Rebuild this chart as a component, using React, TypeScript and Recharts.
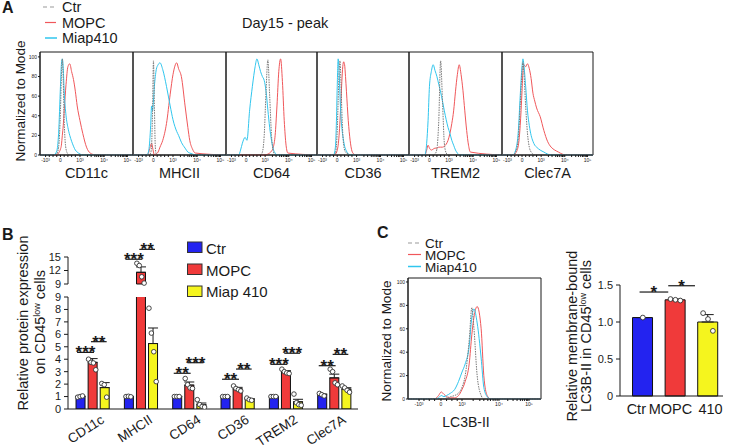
import React from 'react'
import {
  LineChart,
  Line,
  XAxis,
  YAxis,
  ReferenceArea,
  ComposedChart,
  Bar,
  Cell,
  ErrorBar,
  Scatter,
  ReferenceLine,
} from 'recharts'

const FONT = '"Liberation Sans", Arial, sans-serif'
const INK = '#1a1a1a'
const CTR_GRAY = '#7a7a7a'
const MOPC_RED = '#f0575a'
const MIAP_CYAN = '#30c6ee'
const BAR_COLORS = ['#2323f0', '#f03a3a', '#f5f51e']

// ---- panel A: histograms (x = % of the biexponential axis, y = % of mode)
const logTickLabels = ['-10³', '0', '10³', '10⁴', '10⁵']
const aTickPos = [6, 22, 43, 69, 94]
const aMinorTicks = [10, 14, 18, 26, 30, 34, 38, 51, 55, 59, 61, 63, 65, 66.5, 68, 76.5, 81, 84, 86.5, 88.5, 90, 91.5, 93]
const cTickPos = [8.3, 24.8, 40.6, 68.4, 91]
const cMinorTicks = [12, 16, 20, 29, 33, 37, 49, 54, 57, 60, 62, 64, 65.5, 67, 75, 79, 82, 84.5, 86, 87.5, 89, 90]
const histYTicks = [0, 20, 40, 60, 80, 100]

const cd11cX = [0, 15, 18, 20, 22, 23, 24, 25, 26, 28, 30, 32, 34, 36, 38, 40, 43, 46, 50, 54, 60, 100]
const cd11cCtr = [0, 0, 1, 8, 45, 80, 98, 75, 35, 6, 1, 0, 0, 0, 0, 0, 0, 0, 0, 0, 0, 0]
const cd11cMiap = [0, 0, 4, 22, 70, 92, 98, 88, 65, 40, 28, 20, 14, 9, 5, 3, 1, 0, 0, 0, 0, 0]
const cd11cMopc = [0, 0, 0, 2, 6, 10, 20, 30, 45, 72, 90, 93, 85, 77, 65, 50, 35, 22, 8, 2, 0, 0]

const mhciiX = [0, 15, 17, 19, 20, 21, 22, 23, 24, 25, 27, 29, 32, 36, 40, 43, 47, 49, 52, 56, 59, 61, 64, 67, 100]
const mhciiCtr = [0, 0, 0, 2, 10, 45, 96, 50, 8, 1, 0, 0, 0, 0, 0, 0, 0, 0, 0, 0, 0, 0, 0, 0, 0]
const mhciiMiap = [0, 0, 5, 30, 50, 45, 55, 70, 80, 87, 92, 94, 87, 70, 50, 36, 24, 20, 13, 7, 3, 2, 1, 0, 0]
const mhciiMopc = [0, 0, 3, 10, 12, 8, 3, 0, 0, 1, 3, 8, 15, 32, 62, 82, 94, 88, 80, 50, 28, 15, 6, 2, 0]

const cd64X = [0, 14, 16, 18, 21, 23, 26, 29, 32, 34, 36, 38, 40, 42, 44, 46, 48, 50, 52, 54, 56, 58, 60, 62, 64, 66, 68, 100]
const cd64Ctr = [0, 0, 0, 0, 0, 0, 0, 0, 0, 0, 0, 0, 3, 20, 65, 97, 60, 20, 4, 0, 0, 0, 0, 0, 0, 0, 0, 0]
const cd64Miap = [0, 0, 5, 12, 18, 15, 46, 70, 90, 98, 92, 85, 80, 76, 65, 46, 28, 15, 6, 2, 0, 0, 0, 0, 0, 0, 0, 0]
const cd64Mopc = [0, 0, 0, 0, 0, 0, 0, 0, 0, 0, 0, 0, 0, 0, 0, 1, 2, 4, 8, 20, 50, 85, 98, 75, 35, 10, 2, 0]

const cd36X = [0, 18, 20, 21, 22, 23, 24, 25, 26, 27, 28, 29, 30, 31, 32, 34, 36, 38, 40, 42, 100]
const cd36Ctr = [0, 0, 2, 8, 25, 55, 85, 96, 75, 45, 22, 10, 5, 3, 2, 1, 0, 0, 0, 0, 0]
const cd36Miap = [0, 0, 8, 30, 70, 98, 85, 60, 40, 28, 20, 14, 9, 6, 4, 1, 0, 0, 0, 0, 0]
const cd36Mopc = [0, 0, 1, 2, 5, 10, 20, 35, 55, 75, 90, 95, 92, 80, 65, 35, 15, 4, 1, 0, 0]

const trem2X = [0, 17, 19, 20.5, 22, 24, 26, 28, 30, 32, 34, 36, 38, 40, 42, 44, 46, 48, 50, 52, 54, 56, 58, 60, 62, 64, 66, 100]
const trem2Ctr = [0, 0, 0, 0, 0, 0, 0, 1, 6, 35, 96, 55, 12, 2, 0, 0, 0, 0, 0, 0, 0, 0, 0, 0, 0, 0, 0, 0]
const trem2Miap = [0, 0, 12, 35, 70, 85, 92, 86, 80, 72, 64, 55, 45, 36, 28, 22, 15, 10, 5, 2, 0, 0, 0, 0, 0, 0, 0, 0]
const trem2Mopc = [0, 0, 5, 10, 7, 5, 6, 7, 7, 8, 8, 8, 9, 11, 15, 22, 32, 45, 65, 82, 92, 82, 66, 45, 25, 10, 3, 0]

const clec7aX = [0, 12, 15, 18, 20, 22, 23, 24, 26, 28, 30, 32, 34, 36, 38, 42, 46, 50, 54, 58, 62, 66, 71, 100]
const clec7aCtr = [0, 0, 3, 18, 50, 85, 95, 85, 50, 22, 8, 3, 1, 0, 0, 0, 0, 0, 0, 0, 0, 0, 0, 0]
const clec7aMiap = [0, 0, 5, 25, 60, 90, 98, 92, 70, 45, 30, 20, 14, 10, 8, 5, 3, 1, 0, 0, 0, 0, 0, 0]
const clec7aMopc = [0, 0, 2, 10, 30, 65, 85, 92, 90, 93, 88, 78, 63, 55, 48, 39, 25, 14, 8, 5, 3, 1, 0, 0]

// ---- panel C histogram (LC3B-II)
const lc3X = [0, 20, 23, 25, 27, 29, 32, 35, 38, 40.6, 43, 46, 48, 49.6, 52, 55, 57, 59.5, 62, 100]
const lc3Ctr = [0, 0, 0, 0, 0, 1, 2, 3, 5, 10, 20, 50, 78, 60, 20, 3, 0, 0, 0, 0]
const lc3Miap = [0, 0, 1, 3, 2, 3, 5, 8, 15, 23, 30, 45, 70, 77, 65, 35, 10, 2, 0, 0]
const lc3Mopc = [0, 0, 3, 6, 4, 2, 1, 1, 3, 8, 15, 30, 55, 70, 79, 60, 20, 3, 0, 0]

// ---- panel B bars
const bGroups = ['CD11c', 'MHCII', 'CD64', 'CD36', 'TREM2', 'Clec7A']
const bCtrMean = [1.0, 1.0, 1.0, 1.0, 1.0, 1.15]
const bMopcMean = [3.75, 11.6, 1.92, 1.62, 3.0, 2.5]
const bMiapMean = [1.72, 5.26, 0.36, 0.78, 0.58, 1.6]
const bCtrSem = [0.03, 0.02, 0.02, 0.02, 0.02, 0.06]
const bMopcSem = [0.3, 1.2, 0.25, 0.12, 0.08, 0.3]
const bMiapSem = [0.4, 1.25, 0.12, 0.06, 0.2, 0.11]
const bCtrDots = [[0.95, 1.0, 1.05], [1.0, 1.02, 0.98], [1.0, 1.0, 1.0], [1.0, 1.0, 1.0], [1.0, 1.0, 1.0], [1.25, 1.15, 1.05]]
const bMopcDots = [[4.0, 3.75, 3.7, 3.15], [13.6, 13.1, 10.6, 9.2], [2.45, 1.95, 1.7, 1.65], [1.85, 1.65, 1.55, 1.45], [3.2, 3.0, 2.9, 2.85], [3.2, 3.0, 2.1, 1.95]]
const bMiapDots = [[2.05, 1.95, 0.95], [8.1, 6.1, 4.6, 2.2], [0.75, 0.35, 0.2, 0.15], [0.88, 0.75, 0.7], [1.2, 0.5, 0.35, 0.3], [1.85, 1.7, 1.5, 1.35]]
const bSigCtrMopc = [4.55, 14.5, 2.87, 2.39, 3.59, 3.48]
const bSigMopcMiap = [5.41, 16.7, 3.72, 3.21, 4.48, 4.39]
const bStarsCtrMopc = ['***', '***', '**', '**', '***', '**']
const bStarsMopcMiap = ['**', '**', '***', '**', '***', '**']
const bLowerTicks = [0, 1, 2, 3, 4, 5, 6, 7, 8, 9]
const bUpperTicks = [9, 12, 15]

// ---- panel C bars
const cCats = ['Ctr', 'MOPC', '410']
const cMean = [1.06, 1.3, 1.0]
const cSem = [0, 0.01, 0.1]
const cDots = [[1.06], [1.31, 1.3, 1.29], [1.12, 1.04, 0.88]]
const cYTicks = [0, 0.5, 1.0, 1.5]

const aPanels = [
  { name: 'CD11c', x: cd11cX, ctr: cd11cCtr, mopc: cd11cMopc, miap: cd11cMiap },
  { name: 'MHCII', x: mhciiX, ctr: mhciiCtr, mopc: mhciiMopc, miap: mhciiMiap },
  { name: 'CD64', x: cd64X, ctr: cd64Ctr, mopc: cd64Mopc, miap: cd64Miap },
  { name: 'CD36', x: cd36X, ctr: cd36Ctr, mopc: cd36Mopc, miap: cd36Miap },
  { name: 'TREM2', x: trem2X, ctr: trem2Ctr, mopc: trem2Mopc, miap: trem2Miap },
  { name: 'Clec7A', x: clec7aX, ctr: clec7aCtr, mopc: clec7aMopc, miap: clec7aMiap },
]
const aEdges = [40, 133, 226, 317, 409, 502, 593]

function Histogram({ x, ctr, mopc, miap, plotW, plotH, yMax, xTicks, minorTicks, showY }: any) {
  const rows = x.map((v: number, i: number) => ({ x: v, ctr: ctr[i], mopc: mopc[i], miap: miap[i] }))
  const allTicks = [...xTicks, ...minorTicks].sort((a, b) => a - b)
  const yw = showY ? 13 : 0
  return (
    <LineChart width={plotW + yw + 2} height={plotH + 13} data={rows} margin={{ top: 1, right: 1, bottom: 0, left: 1 }}>
      <XAxis
        dataKey="x"
        type="number"
        domain={[0, 100]}
        ticks={allTicks}
        interval={0}
        tickFormatter={(v: number) => {
          const j = xTicks.indexOf(v)
          return j >= 0 ? logTickLabels[j] : ''
        }}
        tick={{ fontSize: 5, fill: INK }}
        tickSize={2}
        tickMargin={1}
        stroke={INK}
        height={12}
      />
      <YAxis
        type="number"
        domain={[0, yMax]}
        ticks={histYTicks}
        interval={0}
        hide={!showY}
        width={yw}
        tick={{ fontSize: 5, fill: INK }}
        tickSize={2}
        tickMargin={1}
        stroke={INK}
      />
      <ReferenceArea x1={0} x2={100} y1={0} y2={yMax} fill="none" stroke={INK} strokeWidth={1} />
      <Line type="monotone" dataKey="mopc" stroke={MOPC_RED} strokeWidth={1} dot={false} isAnimationActive={false} />
      <Line type="monotone" dataKey="miap" stroke={MIAP_CYAN} strokeWidth={1} dot={false} isAnimationActive={false} />
      <Line type="monotone" dataKey="ctr" stroke={CTR_GRAY} strokeWidth={1} strokeDasharray="1.5 1" dot={false} isAnimationActive={false} />
    </LineChart>
  )
}

const dot = (r: number) => (p: any) => <circle cx={p.cx} cy={p.cy} r={r} fill="#fff" stroke="#333" strokeWidth={0.9} />

// table rows for panel B
const bSets: [number[], number[]][] = [[bCtrMean, bCtrSem], [bMopcMean, bMopcSem], [bMiapMean, bMiapSem]]
const barRows = bGroups.flatMap((_, g) => bSets.map(([m, s], k) => ({ x: g * 4 + k, v: m[g], err: [0, s[g]], k })))
const dotRows = bGroups.flatMap((_, g) =>
  [bCtrDots, bMopcDots, bMiapDots].flatMap((set, k) =>
    set[g].map((y, i, arr) => ({ x: g * 4 + k + (i - (arr.length - 1) / 2) * 0.2, y }))
  )
)
const sigRows = bGroups.flatMap((_, g) => [
  { x1: g * 4 - 0.25, x2: g * 4 + 1.15, y: bSigCtrMopc[g], text: bStarsCtrMopc[g] },
  { x1: g * 4 + 0.9, x2: g * 4 + 2.2, y: bSigMopcMiap[g], text: bStarsMopcMiap[g] },
])
const groupCenters = bGroups.map((_, g) => g * 4 + 1)

function GroupTick({ x, y, payload }: any) {
  const g = Math.round((payload.value - 1) / 4)
  return (
    <text transform={`translate(${x + 13},${y + 11}) rotate(-33)`} textAnchor="end" fontSize={13.5} fill={INK} fontFamily={FONT}>
      {bGroups[g]}
    </text>
  )
}

function sigLines(rows: any[]) {
  return rows.map((s, i) => (
    <ReferenceLine
      key={i}
      segment={[{ x: s.x1, y: s.y }, { x: s.x2, y: s.y }]}
      stroke={INK}
      strokeWidth={1.2}
      ifOverflow="visible"
      label={{ value: s.text, position: 'top', offset: -6, fontSize: 17, fontWeight: 700, fill: INK }}
    />
  ))
}

function BarsLower() {
  return (
    <ComposedChart width={370} height={158} data={barRows} margin={{ top: 7, right: 12, bottom: 0, left: 43 }}>
      <XAxis
        dataKey="x"
        type="number"
        domain={[-1, 23]}
        ticks={groupCenters}
        interval={0}
        tickLine={false}
        tickSize={0}
        tick={(p: any) => <GroupTick {...p} />}
        stroke={INK}
        height={39}
      />
      <XAxis xAxisId="dots" dataKey="x" type="number" domain={[-1, 23]} hide />
      <YAxis
        type="number"
        domain={[0, 9]}
        ticks={bLowerTicks}
        interval={0}
        allowDataOverflow
        width={25}
        tick={{ fontSize: 11, fill: INK }}
        tickSize={4}
        tickMargin={3}
        stroke={INK}
      />
      <Bar dataKey="v" barSize={9} stroke="#111" strokeWidth={1} isAnimationActive={false}>
        {barRows.map((r, i) => (
          <Cell key={i} fill={BAR_COLORS[r.k]} />
        ))}
        <ErrorBar dataKey="err" width={5} stroke={INK} strokeWidth={1} direction="y" />
      </Bar>
      <Scatter xAxisId="dots" data={dotRows.filter(d => d.y <= 9)} dataKey="y" shape={dot(2.3)} isAnimationActive={false} />
      {sigLines(sigRows.filter(s => s.y <= 9))}
    </ComposedChart>
  )
}

function BarsUpper() {
  return (
    <ComposedChart width={370} height={62} data={barRows.filter(r => r.v > 9)} margin={{ top: 27, right: 12, bottom: 8, left: 43 }}>
      <XAxis dataKey="x" type="number" domain={[-1, 23]} hide />
      <XAxis xAxisId="dots" dataKey="x" type="number" domain={[-1, 23]} hide />
      <YAxis
        type="number"
        domain={[9, 15]}
        ticks={bUpperTicks}
        interval={0}
        width={25}
        tick={{ fontSize: 11, fill: INK }}
        tickSize={4}
        tickMargin={3}
        stroke={INK}
      />
      <Bar dataKey="v" barSize={9} stroke="#111" strokeWidth={1} fill={BAR_COLORS[1]} isAnimationActive={false}>
        <ErrorBar dataKey="err" width={5} stroke={INK} strokeWidth={1} direction="y" />
      </Bar>
      <Scatter xAxisId="dots" data={dotRows.filter(d => d.y > 9)} dataKey="y" shape={dot(2.3)} isAnimationActive={false} />
      {sigLines(sigRows.filter(s => s.y > 9))}
    </ComposedChart>
  )
}

const cRows = cCats.map((c, i) => ({ x: i, v: cMean[i], err: [0, cSem[i]], name: c }))
const cDotRows = cDots.flatMap((set, k) => set.map((y, i, arr) => ({ x: k + (i - (arr.length - 1) / 2) * 0.15, y })))
const cSigRows = [
  { x1: -0.1, x2: 0.78, y: 1.405, text: '*' },
  { x1: 0.78, x2: 1.6, y: 1.49, text: '*' },
]
const cLabelShift = [-6.5, -5, 2.5]

function CatTick({ x, y, payload }: any) {
  return (
    <text x={x + cLabelShift[payload.value]} y={y + 16} textAnchor="middle" fontSize={14.5} fill={INK} fontFamily={FONT}>
      {cCats[payload.value]}
    </text>
  )
}

function BarsC() {
  return (
    <ComposedChart width={136} height={156} data={cRows} margin={{ top: 20, right: 5, bottom: 0, left: 0 }}>
      <XAxis
        dataKey="x"
        type="number"
        domain={[-0.7, 2.46]}
        ticks={[0, 1, 2]}
        interval={0}
        tickLine={false}
        tickSize={0}
        tick={(p: any) => <CatTick {...p} />}
        stroke={INK}
        height={25}
      />
      <XAxis xAxisId="dots" dataKey="x" type="number" domain={[-0.7, 2.46]} hide />
      <YAxis
        type="number"
        domain={[0, 1.5]}
        ticks={cYTicks}
        interval={0}
        width={28}
        tickFormatter={(v: number) => (v === 0 ? '0' : v.toFixed(1))}
        tick={{ fontSize: 11, fill: INK }}
        tickSize={4}
        tickMargin={3}
        stroke={INK}
      />
      <Bar dataKey="v" barSize={20} stroke="#111" strokeWidth={1} isAnimationActive={false}>
        {cRows.map((_, i) => (
          <Cell key={i} fill={BAR_COLORS[i]} />
        ))}
        <ErrorBar dataKey="err" width={6} stroke={INK} strokeWidth={1} direction="y" />
      </Bar>
      <Scatter xAxisId="dots" data={cDotRows} dataKey="y" shape={dot(2.4)} isAnimationActive={false} />
      {sigLines(cSigRows)}
    </ComposedChart>
  )
}

export default function App() {
  return (
    <div style={{ position: 'absolute', left: 0, top: 0, width: 731, height: 448, overflow: 'hidden', background: '#fff', fontFamily: FONT }}>
      {aPanels.map((p, i) => {
        const x1 = aEdges[i]
        const x2 = aEdges[i + 1]
        const yw = i === 0 ? 13 : 0
        return (
          <div key={p.name} style={{ position: 'absolute', left: x1 - 1 - yw, top: 51 }}>
            <Histogram {...p} plotW={x2 - x1} plotH={103} yMax={105} xTicks={aTickPos} minorTicks={aMinorTicks} showY={i === 0} />
          </div>
        )
      })}
      <div style={{ position: 'absolute', left: 394, top: 277 }}>
        <Histogram x={lc3X} ctr={lc3Ctr} mopc={lc3Mopc} miap={lc3Miap} plotW={133} plotH={121} yMax={103.4} xTicks={cTickPos} minorTicks={cMinorTicks} showY />
      </div>
      <div style={{ position: 'absolute', left: 0, top: 230 }}>
        <BarsUpper />
      </div>
      <div style={{ position: 'absolute', left: 0, top: 290 }}>
        <BarsLower />
      </div>
      <div style={{ position: 'absolute', left: 592, top: 265 }}>
        <BarsC />
      </div>

      <svg width={731} height={448} style={{ position: 'absolute', left: 0, top: 0, pointerEvents: 'none' }} fontFamily={FONT} fill={INK}>
        {/* panel A */}
        <text x={2} y={13} fontSize={16} fontWeight={700}>A</text>
        <line x1={43} x2={57} y1={7} y2={7} stroke="#999" strokeWidth={1.2} strokeDasharray="4 3" />
        <line x1={45} x2={56} y1={22.5} y2={22.5} stroke={MOPC_RED} strokeWidth={1.2} />
        <line x1={45} x2={57} y1={38} y2={38} stroke={MIAP_CYAN} strokeWidth={1.5} />
        <text x={62} y={12} fontSize={14.5}>Ctr</text>
        <text x={62} y={27.5} fontSize={14.5}>MOPC</text>
        <text x={62} y={43} fontSize={14.5}>Miap410</text>
        <text x={242} y={27.5} fontSize={14.5}>Day15 - peak</text>
        <text transform="translate(25,101) rotate(-90)" textAnchor="middle" fontSize={13.5}>Normalized to Mode</text>
        {aPanels.map((p, i) => (
          <text key={p.name} x={(aEdges[i] + aEdges[i + 1]) / 2} y={178} textAnchor="middle" fontSize={14.5}>
            {p.name}
          </text>
        ))}

        {/* panel B */}
        <text x={2} y={240} fontSize={16} fontWeight={700}>B</text>
        <rect x={187.5} y={242} width={14.5} height={10.5} fill={BAR_COLORS[0]} stroke="#333" />
        <rect x={187.5} y={264} width={14.5} height={10.5} fill={BAR_COLORS[1]} stroke="#333" />
        <rect x={187.5} y={286} width={14.5} height={10.5} fill={BAR_COLORS[2]} stroke="#333" />
        <text x={206} y={253.5} fontSize={15}>Ctr</text>
        <text x={206} y={275.5} fontSize={15}>MOPC</text>
        <text x={206} y={297.3} fontSize={15}>Miap 410</text>
        <text transform="translate(28,323) rotate(-90)" textAnchor="middle" fontSize={14.5}>Relative protein expression</text>
        <text transform="translate(44.5,322) rotate(-90)" textAnchor="middle" fontSize={14.5}>
          on CD45<tspan fontSize={9} dy={-5}>low</tspan>
          <tspan dy={5}> cells</tspan>
        </text>

        {/* panel C */}
        <text x={377} y={238} fontSize={16} fontWeight={700}>C</text>
        <line x1={408} x2={421} y1={243} y2={243} stroke="#999" strokeWidth={1.2} strokeDasharray="4 3" />
        <line x1={408} x2={421} y1={254.5} y2={254.5} stroke={MOPC_RED} strokeWidth={1.2} />
        <line x1={408} x2={421} y1={266.5} y2={266.5} stroke={MIAP_CYAN} strokeWidth={1.5} />
        <text x={425} y={247.5} fontSize={13.5}>Ctr</text>
        <text x={425} y={259.5} fontSize={13.5}>MOPC</text>
        <text x={425} y={271.5} fontSize={13.5}>Miap410</text>
        <text transform="translate(391,341) rotate(-90)" textAnchor="middle" fontSize={13.5}>Normalized to Mode</text>
        <text x={466} y={426.5} textAnchor="middle" fontSize={14}>LC3B-II</text>
        <text transform="translate(577,336) rotate(-90)" textAnchor="middle" fontSize={14.5}>Relative membrane-bound</text>
        <text transform="translate(590.5,336) rotate(-90)" textAnchor="middle" fontSize={14.5}>
          LC3B-II in CD45<tspan fontSize={9} dy={-5}>low</tspan>
          <tspan dy={5}> cells</tspan>
        </text>
      </svg>
    </div>
  )
}
